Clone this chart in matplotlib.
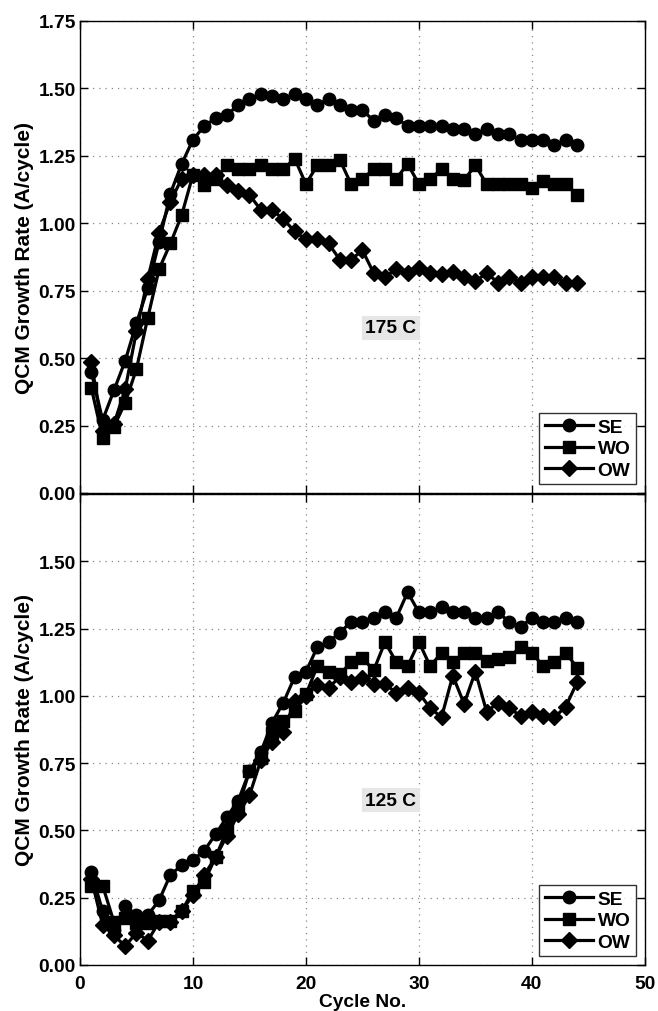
import numpy as np
import matplotlib
matplotlib.use('Agg')
import matplotlib.pyplot as plt

plt.rcParams['font.family'] = ['Liberation Sans', 'DejaVu Sans']
plt.rcParams['font.weight'] = 'bold'

cycles = list(range(1, 45))

# 175 C growth rates
se_175 = [0.45, 0.27, 0.38, 0.49, 0.63, 0.76, 0.93, 1.11, 1.22, 1.31, 1.36, 1.39, 1.40, 1.44, 1.46,
          1.48, 1.47, 1.46, 1.48, 1.46, 1.44, 1.46, 1.44, 1.42, 1.42, 1.38, 1.40, 1.39, 1.36, 1.36,
          1.36, 1.36, 1.35, 1.35, 1.33, 1.35, 1.33, 1.33, 1.31, 1.31, 1.31, 1.29, 1.31, 1.29]
wo_175 = [0.39, 0.205, 0.245, 0.335, 0.46, 0.65, 0.83, 0.925, 1.03, 1.18, 1.14, 1.165, 1.215, 1.20, 1.20,
          1.215, 1.20, 1.20, 1.24, 1.145, 1.215, 1.215, 1.235, 1.145, 1.165, 1.20, 1.20, 1.165, 1.22, 1.145,
          1.165, 1.20, 1.165, 1.16, 1.215, 1.145, 1.145, 1.145, 1.145, 1.13, 1.155, 1.145, 1.145, 1.105]
ow_175 = [0.485, 0.23, 0.255, 0.385, 0.60, 0.795, 0.965, 1.08, 1.165, 1.18, 1.18, 1.18, 1.14, 1.12, 1.105,
          1.05, 1.05, 1.015, 0.97, 0.94, 0.94, 0.925, 0.865, 0.865, 0.90, 0.815, 0.80, 0.83, 0.815, 0.835,
          0.815, 0.81, 0.82, 0.80, 0.785, 0.815, 0.78, 0.80, 0.78, 0.80, 0.80, 0.80, 0.78, 0.78]

# 125 C growth rates
se_125 = [0.345, 0.20, 0.13, 0.22, 0.185, 0.185, 0.24, 0.335, 0.37, 0.39, 0.425, 0.485, 0.55, 0.61, 0.72,
          0.79, 0.90, 0.975, 1.07, 1.09, 1.18, 1.20, 1.235, 1.275, 1.275, 1.29, 1.31, 1.29, 1.385, 1.31,
          1.31, 1.33, 1.31, 1.31, 1.29, 1.29, 1.31, 1.275, 1.255, 1.29, 1.275, 1.275, 1.29, 1.275]
wo_125 = [0.295, 0.295, 0.16, 0.175, 0.155, 0.155, 0.165, 0.165, 0.20, 0.275, 0.31, 0.40, 0.50, 0.585, 0.72,
          0.77, 0.86, 0.905, 0.945, 1.005, 1.11, 1.09, 1.08, 1.125, 1.14, 1.095, 1.20, 1.125, 1.11, 1.20,
          1.11, 1.16, 1.125, 1.16, 1.16, 1.13, 1.135, 1.145, 1.18, 1.16, 1.11, 1.125, 1.16, 1.105]
ow_125 = [0.32, 0.15, 0.11, 0.07, 0.12, 0.09, 0.16, 0.16, 0.20, 0.26, 0.335, 0.40, 0.48, 0.56, 0.63,
          0.76, 0.83, 0.865, 0.98, 1.00, 1.04, 1.03, 1.07, 1.05, 1.065, 1.045, 1.045, 1.01, 1.03, 1.01,
          0.955, 0.92, 1.075, 0.97, 1.09, 0.94, 0.975, 0.955, 0.925, 0.94, 0.925, 0.92, 0.96, 1.05]

series_names = ['SE', 'WO', 'OW']
markers = ['o', 's', 'D']
msizes = [9.0, 8.0, 8.5]
yticks = [0.0, 0.25, 0.5, 0.75, 1.0, 1.25, 1.5, 1.75]
xticks = [0, 10, 20, 30, 40, 50]
fs = 13.8


def make_panel(ax, data, title, show_x, top_label):
    for vals, mk, ms, nm in zip(data, markers, msizes, series_names):
        ax.plot(cycles, vals, color='k', lw=2.3, marker=mk, ms=ms, label=nm)
    ax.set_xlim(0, 50)
    ax.set_ylim(0, 1.75)
    ax.set_xticks(xticks)
    ax.set_yticks(yticks)
    ylabels = ['%.2f' % v for v in yticks]
    if not top_label:
        ylabels[-1] = ''
    ax.set_yticklabels(ylabels, fontsize=fs, fontweight='bold')
    if show_x:
        ax.set_xticklabels([str(v) for v in xticks], fontsize=fs, fontweight='bold')
        ax.set_xlabel('Cycle No.', fontsize=fs, fontweight='bold', labelpad=1)
    else:
        ax.set_xticklabels([])
    ax.tick_params(direction='in', top=True, right=True, length=6, width=1, pad=3)
    ax.tick_params(axis='x', pad=7)
    ax.grid(True, color='#888888', linestyle=(0, (1, 4)), linewidth=0.9)
    for sp in ax.spines.values():
        sp.set_linewidth(1)
    ax.set_ylabel('QCM Growth Rate (A/cycle)', fontsize=15, fontweight='bold', labelpad=3)
    ax.text(0.55, 0.35, title, transform=ax.transAxes, fontsize=fs, fontweight='bold',
            ha='center', va='center',
            bbox=dict(facecolor='#e6e6e6', edgecolor='none', pad=2.5))
    leg = ax.legend(loc='lower right', fontsize=fs, frameon=True, fancybox=False,
                    edgecolor='k', handlelength=2.5, handletextpad=0.25,
                    borderaxespad=0.45, labelspacing=0.2, borderpad=0.3)
    leg.get_frame().set_linewidth(1)
    for t in leg.get_texts():
        t.set_fontweight('bold')


fig = plt.figure(figsize=(6.58, 10.12), dpi=100)
ax1 = fig.add_axes([0.1216, 0.5119, 0.8584, 0.4664])
ax2 = fig.add_axes([0.1216, 0.0455, 0.8584, 0.4654])

make_panel(ax1, [se_175, wo_175, ow_175], '175 C', False, True)
make_panel(ax2, [se_125, wo_125, ow_125], '125 C', True, False)

fig.savefig('out.png', dpi=100)
